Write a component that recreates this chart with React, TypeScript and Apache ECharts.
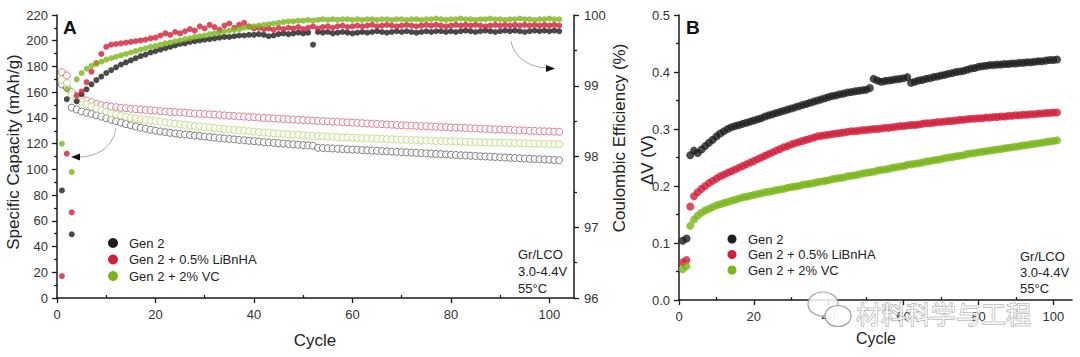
import React, { useEffect, useRef } from "react";
import * as echarts from "echarts";

// ---------- Panel A: cycle numbers ----------
const cyclesA: number[] = Array.from({ length: 102 }, (_, i) => i + 1);
const cyclesB: number[] = Array.from({ length: 101 }, (_, i) => i + 1);

const seriesNames = ["Gen 2", "Gen 2 + 0.5% LiBnHA", "Gen 2 + 2% VC"];

// Specific capacity (mAh/g), open circles
const capGen2: number[] = [
  166.0, 163.5, 148.0, 146.5, 145.0, 144.0, 143.0, 142.0, 141.0, 139.8,
  138.6, 137.5, 136.3, 135.2, 134.2, 133.3, 132.4, 131.6, 130.8, 130.1,
  129.5, 128.9, 128.4, 127.9, 127.5, 127.1, 126.7, 126.3, 125.9, 125.5,
  125.1, 124.7, 124.3, 124.0, 123.6, 123.3, 122.9, 122.6, 122.2, 121.9,
  121.6, 121.2, 120.9, 120.6, 120.3, 120.0, 119.7, 119.4, 119.1, 118.8,
  118.6, 118.4, 116.8, 116.6, 116.4, 116.2, 116.0, 115.8, 115.6, 115.4,
  115.2, 115.0, 114.8, 114.6, 114.4, 114.2, 114.0, 113.8, 113.6, 113.4,
  113.2, 113.0, 112.8, 112.6, 112.4, 112.2, 112.0, 111.8, 111.6, 111.4,
  111.2, 111.0, 110.8, 110.6, 110.4, 110.2, 110.0, 109.8, 109.6, 109.4,
  109.2, 109.0, 108.8, 108.6, 108.4, 108.2, 108.0, 107.9, 107.7, 107.5,
  107.3, 107.1,
];
const capLiBnHA: number[] = [
  175.5, 173.0, 160.0, 157.0, 155.0, 153.5, 152.2, 151.0, 150.0, 149.3,
  148.8, 148.3, 147.9, 147.5, 147.1, 146.8, 146.5, 146.2, 145.9, 145.6,
  145.3, 145.0, 144.7, 144.5, 144.2, 144.0, 143.7, 143.5, 143.2, 143.0,
  142.7, 142.5, 142.2, 142.0, 141.7, 141.5, 141.2, 141.0, 140.7, 140.5,
  140.3, 140.0, 139.8, 139.6, 139.4, 139.1, 138.9, 138.7, 138.5, 138.3,
  138.1, 137.9, 137.7, 137.5, 137.3, 137.1, 136.9, 136.7, 136.5, 136.3,
  136.1, 135.9, 135.7, 135.5, 135.3, 135.1, 134.9, 134.7, 134.5, 134.3,
  134.1, 134.0, 133.8, 133.6, 133.5, 133.3, 133.1, 132.9, 132.8, 132.6,
  132.4, 132.3, 132.1, 131.9, 131.8, 131.6, 131.5, 131.3, 131.1, 131.0,
  130.8, 130.7, 130.5, 130.3, 130.2, 130.0, 129.9, 129.7, 129.6, 129.5,
  129.3, 129.2,
];
const capVC: number[] = [
  169.5, 167.0, 158.0, 155.0, 152.5, 150.5, 148.8, 147.3, 146.0, 144.8,
  143.7, 142.7, 141.8, 141.0, 140.2, 139.5, 138.9, 138.4, 137.9, 137.5,
  137.0, 136.5, 136.0, 135.5, 135.0, 134.6, 134.2, 133.8, 133.4, 133.0,
  132.6, 132.2, 131.8, 131.4, 131.0, 130.7, 130.3, 130.0, 129.6, 129.3,
  129.0, 128.7, 128.4, 128.1, 127.8, 127.5, 127.3, 127.0, 126.8, 126.5,
  126.3, 126.1, 125.9, 125.7, 125.5, 125.3, 125.1, 124.9, 124.8, 124.6,
  124.4, 124.3, 124.1, 124.0, 123.8, 123.7, 123.5, 123.4, 123.2, 123.1,
  122.9, 122.8, 122.7, 122.5, 122.4, 122.3, 122.1, 122.0, 121.9, 121.8,
  121.7, 121.5, 121.4, 121.3, 121.2, 121.1, 121.0, 120.9, 120.8, 120.7,
  120.6, 120.5, 120.4, 120.3, 120.2, 120.1, 120.0, 119.9, 119.8, 119.7,
  119.6, 119.5,
];

// Coulombic efficiency (%), filled dots
const ceGen2: number[] = [
  97.52, 98.81, 96.9, 98.78, 98.88, 98.95, 99.02, 99.08, 99.13, 99.18,
  99.22, 99.26, 99.3, 99.33, 99.36, 99.39, 99.42, 99.44, 99.47, 99.49,
  99.51, 99.53, 99.55, 99.57, 99.59, 99.6, 99.62, 99.63, 99.64, 99.65,
  99.66, 99.67, 99.68, 99.69, 99.69, 99.7, 99.71, 99.71, 99.72, 99.72,
  99.73, 99.72, 99.7, 99.71, 99.73, 99.74, 99.73, 99.74, 99.75, 99.74,
  99.75, 99.58, 99.76, 99.75, 99.76, 99.74, 99.75, 99.76, 99.75, 99.74,
  99.75, 99.76, 99.75, 99.76, 99.77, 99.76, 99.75, 99.76, 99.77, 99.76,
  99.77, 99.76, 99.75, 99.76, 99.77, 99.76, 99.77, 99.77, 99.76, 99.77,
  99.76, 99.77, 99.78, 99.77, 99.76, 99.77, 99.78, 99.77, 99.76, 99.77,
  99.78, 99.77, 99.78, 99.77, 99.76, 99.77, 99.78, 99.77, 99.78, 99.77,
  99.78, 99.77,
];
const ceLiBnHA: number[] = [
  96.31, 98.04, 97.21, 98.86, 98.92, 99.05, 99.2, 99.32, 99.45, 99.55,
  99.58, 99.59, 99.6, 99.61, 99.62, 99.63, 99.64, 99.65, 99.67, 99.68,
  99.71, 99.74, 99.72, 99.76, 99.74, 99.77, 99.8, 99.78, 99.84, 99.81,
  99.86, 99.83, 99.79, 99.85, 99.88, 99.82, 99.86, 99.89, 99.84, 99.81,
  99.82, 99.8, 99.81, 99.79, 99.82, 99.8, 99.82, 99.81, 99.83, 99.8,
  99.82, 99.84, 99.81, 99.83, 99.84, 99.82, 99.84, 99.85, 99.83, 99.84,
  99.85, 99.84, 99.85, 99.86, 99.84, 99.85, 99.86, 99.85, 99.84, 99.85,
  99.86, 99.85, 99.84, 99.85, 99.86, 99.85, 99.86, 99.85, 99.84, 99.85,
  99.86, 99.85, 99.86, 99.85, 99.86, 99.85, 99.84, 99.85, 99.86, 99.85,
  99.86, 99.85, 99.86, 99.85, 99.86, 99.85, 99.86, 99.85, 99.86, 99.85,
  99.86, 99.85,
];
const ceVC: number[] = [
  98.18, 98.95, 97.78, 99.09, 99.18, 99.24, 99.28, 99.31, 99.34, 99.37,
  99.39, 99.41, 99.43, 99.45, 99.47, 99.49, 99.51, 99.53, 99.55, 99.56,
  99.58, 99.6, 99.61, 99.63, 99.64, 99.66, 99.67, 99.69, 99.7, 99.71,
  99.73, 99.74, 99.75, 99.77, 99.78, 99.79, 99.8, 99.82, 99.83, 99.84,
  99.85, 99.86, 99.87, 99.88, 99.89, 99.9, 99.91, 99.91, 99.92, 99.92,
  99.93, 99.92, 99.93, 99.94, 99.93, 99.94, 99.93, 99.94, 99.94, 99.93,
  99.94, 99.93, 99.94, 99.94, 99.93, 99.94, 99.94, 99.93, 99.94, 99.94,
  99.93, 99.94, 99.94, 99.93, 99.94, 99.94, 99.95, 99.94, 99.93, 99.94,
  99.94, 99.95, 99.94, 99.94, 99.93, 99.94, 99.94, 99.95, 99.94, 99.94,
  99.93, 99.94, 99.94, 99.95, 99.94, 99.94, 99.93, 99.94, 99.94, 99.95,
  99.94, 99.94,
];

// ---------- Panel B: ΔV (V) ----------
const dvGen2: number[] = [
  0.104, 0.108, 0.254, 0.262, 0.258, 0.264, 0.27, 0.276, 0.281, 0.287,
  0.292, 0.296, 0.3, 0.303, 0.305, 0.307, 0.309, 0.311, 0.313, 0.315,
  0.317, 0.319, 0.322, 0.324, 0.326, 0.328, 0.33, 0.332, 0.334, 0.336,
  0.338, 0.34, 0.342, 0.344, 0.346, 0.348, 0.35, 0.352, 0.354, 0.356,
  0.358, 0.359, 0.361, 0.362, 0.364, 0.365, 0.366, 0.367, 0.368, 0.369,
  0.372, 0.388, 0.385, 0.383, 0.384, 0.385, 0.386, 0.387, 0.388, 0.389,
  0.391, 0.381, 0.383, 0.385, 0.386, 0.388, 0.389, 0.391, 0.392, 0.394,
  0.395, 0.397, 0.398, 0.4, 0.401, 0.402, 0.404, 0.406, 0.407, 0.409,
  0.41, 0.411, 0.412, 0.412, 0.413, 0.413, 0.414, 0.414, 0.415, 0.415,
  0.416, 0.416, 0.417, 0.417, 0.418, 0.419, 0.419, 0.42, 0.421, 0.421,
  0.422,
];
const dvLiBnHA: number[] = [
  0.066, 0.07, 0.164, 0.182, 0.189, 0.195, 0.2, 0.205, 0.209, 0.213,
  0.217, 0.22, 0.223, 0.226, 0.229, 0.232, 0.235, 0.238, 0.241, 0.244,
  0.247, 0.25, 0.253, 0.256, 0.259, 0.262, 0.265, 0.268, 0.27, 0.273,
  0.275, 0.277, 0.279, 0.281, 0.283, 0.285, 0.287, 0.288, 0.289, 0.29,
  0.291, 0.292, 0.293, 0.294, 0.295, 0.296, 0.296, 0.297, 0.298, 0.298,
  0.299, 0.3, 0.3, 0.301, 0.302, 0.302, 0.303, 0.304, 0.305, 0.305,
  0.306, 0.307, 0.307, 0.308, 0.309, 0.31, 0.31, 0.311, 0.312, 0.312,
  0.313, 0.314, 0.314, 0.315, 0.316, 0.316, 0.317, 0.318, 0.318, 0.319,
  0.319, 0.32, 0.32, 0.321, 0.321, 0.322, 0.322, 0.323, 0.323, 0.324,
  0.324, 0.325, 0.325, 0.326, 0.326, 0.327, 0.327, 0.328, 0.328, 0.329,
  0.329,
];
const dvVC: number[] = [
  0.054, 0.059, 0.13, 0.141, 0.148, 0.153, 0.157, 0.16, 0.163, 0.166,
  0.168, 0.17, 0.172, 0.174, 0.176, 0.178, 0.18, 0.181, 0.183, 0.184,
  0.186, 0.187, 0.189, 0.19, 0.191, 0.193, 0.194, 0.195, 0.197, 0.198,
  0.199, 0.2, 0.202, 0.203, 0.204, 0.205, 0.207, 0.208, 0.209, 0.21,
  0.212, 0.213, 0.214, 0.215, 0.217, 0.218, 0.219, 0.22, 0.222, 0.223,
  0.224, 0.225, 0.227, 0.228, 0.229, 0.23, 0.232, 0.233, 0.234, 0.235,
  0.237, 0.238, 0.239, 0.24, 0.241, 0.243, 0.244, 0.245, 0.246, 0.247,
  0.249, 0.25, 0.251, 0.252, 0.253, 0.254, 0.256, 0.257, 0.258, 0.259,
  0.26, 0.261, 0.262, 0.263, 0.264, 0.265, 0.266, 0.267, 0.268, 0.269,
  0.27, 0.271, 0.272, 0.273, 0.274, 0.275, 0.276, 0.277, 0.278, 0.279,
  0.28,
];

// tick values
const xMajorTicks = [0, 20, 40, 60, 80, 100];
const xMinorTicks = [10, 30, 50, 70, 90];
const conditions = ["Gr/LCO", "3.0-4.4V", "55°C"];

const FONT = '"Liberation Sans", Arial, sans-serif';
const solidColors = ["#1e1e1e", "#cf1f3b", "#7bb51c"];
const openColors = ["#5a5a5a", "#cf5b76", "#b2d36a"];

function pairs(xs: number[], ys: number[]) {
  return ys.map((y, i) => [xs[i], y]);
}

export default function App() {
  const ref = useRef<HTMLDivElement>(null);

  useEffect(() => {
    if (!ref.current) return;
    const chart = echarts.init(ref.current, undefined, { renderer: "svg" });

    const axisLine = { show: true, onZero: false, lineStyle: { color: "#1a1a1a", width: 1.5 } };
    const tickStyle = { color: "#1a1a1a", width: 1.3 };
    const labelStyle = { color: "#333", fontSize: 13, fontFamily: FONT };

    const mkX = (grid: number) => [
      {
        type: "value",
        gridIndex: grid,
        min: 0,
        max: 105,
        interval: 20,
        axisLine,
        axisTick: { show: true, length: 5, customValues: xMajorTicks, lineStyle: tickStyle },
        axisLabel: { ...labelStyle, margin: 10, customValues: xMajorTicks },
        splitLine: { show: false },
      },
      {
        type: "value",
        gridIndex: grid,
        min: 0,
        max: 105,
        axisLine: { show: false },
        axisTick: { show: true, length: 3, customValues: xMinorTicks, lineStyle: tickStyle },
        axisLabel: { show: false },
        splitLine: { show: false },
      },
    ];

    const capData = [capGen2, capLiBnHA, capVC];
    const ceData = [ceGen2, ceLiBnHA, ceVC];
    const dvData = [dvGen2, dvLiBnHA, dvVC];

    const series: any[] = [];
    capData.forEach((d, i) =>
      series.push({
        name: seriesNames[i] + " capacity",
        type: "scatter",
        xAxisIndex: 0,
        yAxisIndex: 0,
        symbol: "circle",
        symbolSize: 7,
        silent: true,
        itemStyle: { color: "#ffffff", borderColor: openColors[i], borderWidth: 1 },
        data: pairs(cyclesA, d),
      })
    );
    ceData.forEach((d, i) =>
      series.push({
        name: seriesNames[i],
        type: "scatter",
        xAxisIndex: 0,
        yAxisIndex: 1,
        symbol: "circle",
        symbolSize: 6,
        silent: true,
        itemStyle: { color: solidColors[i] },
        data: pairs(cyclesA, d),
      })
    );
    dvData.forEach((d, i) =>
      series.push({
        name: seriesNames[i] + " ΔV",
        type: "scatter",
        xAxisIndex: 2,
        yAxisIndex: 2,
        symbol: "circle",
        symbolSize: 8,
        silent: true,
        itemStyle: { color: solidColors[i] },
        data: pairs(cyclesB, d),
      })
    );

    const txt = (text: string, x: number, y: number, opts: any = {}) => ({
      type: "text",
      x,
      y,
      rotation: opts.rotation || 0,
      z: 50,
      silent: true,
      style: {
        text,
        fill: opts.fill || "#222",
        fontSize: opts.fontSize || 13,
        fontFamily: FONT,
        fontWeight: opts.fontWeight || "normal",
        textAlign: opts.align || "left",
        textVerticalAlign: "middle",
      },
    });

    const legend = (cx: number, ys: number[], r: number) => {
      const els: any[] = [];
      ys.forEach((y, i) => {
        els.push({
          type: "circle",
          z: 50,
          silent: true,
          shape: { cx, cy: y, r },
          style: { fill: solidColors[i] },
        });
        els.push(txt(seriesNames[i], cx + 16, y, { fontSize: 13 }));
      });
      return els;
    };

    const graphics: any[] = [
      txt("A", 63, 27, { fontSize: 19, fontWeight: "bold", fill: "#111" }),
      txt("B", 686, 27, { fontSize: 19, fontWeight: "bold", fill: "#111" }),
      txt("Specific Capacity (mAh/g)", 13, 152, { fontSize: 17, align: "center", rotation: Math.PI / 2 }),
      txt("Coulombic Efficiency (%)", 619, 138, { fontSize: 17, align: "center", rotation: Math.PI / 2 }),
      txt("ΔV (V)", 647, 160, { fontSize: 17, align: "center", rotation: Math.PI / 2 }),
      txt("Cycle", 315, 340, { fontSize: 17, align: "center" }),
      txt("Cycle", 876, 338, { fontSize: 16, align: "center" }),
      ...legend(113, [243, 259.5, 276], 5),
      ...legend(732, [239, 254.5, 270], 4.5),
      ...conditions.map((t, i) => txt(t, 518, 254 + i * 17, { fontSize: 13 })),
      ...conditions.map((t, i) => txt(t, 1020, 256 + i * 16, { fontSize: 13 })),
      // arrow pointing to capacity axis
      {
        type: "bezierCurve",
        z: 40,
        silent: true,
        shape: { x1: 116, y1: 128, cpx1: 113, cpy1: 148, cpx2: 96, cpy2: 157, x2: 79, y2: 157 },
        style: { stroke: "#a8a8a8", lineWidth: 1, fill: "none" },
      },
      {
        type: "polygon",
        z: 40,
        silent: true,
        shape: { points: [[71, 157], [80, 153.5], [80, 160.5]] },
        style: { fill: "#111" },
      },
      // arrow pointing to CE axis
      {
        type: "bezierCurve",
        z: 40,
        silent: true,
        shape: { x1: 511, y1: 41, cpx1: 514, cpy1: 58, cpx2: 530, cpy2: 67, x2: 546, y2: 68 },
        style: { stroke: "#a8a8a8", lineWidth: 1, fill: "none" },
      },
      {
        type: "polygon",
        z: 40,
        silent: true,
        shape: { points: [[555, 68.5], [546, 65], [546, 72]] },
        style: { fill: "#111" },
      },
      // watermark
      {
        type: "ellipse",
        z: 100,
        silent: true,
        shape: { cx: 823, cy: 304, rx: 15, ry: 12 },
        style: { fill: "rgba(255,255,255,0.85)", stroke: "#a0a0a0", lineWidth: 1.2 },
      },
      {
        type: "ellipse",
        z: 101,
        silent: true,
        shape: { cx: 838, cy: 316, rx: 13, ry: 10.5 },
        style: { fill: "rgba(255,255,255,0.9)", stroke: "#a0a0a0", lineWidth: 1.2 },
      },
      {
        type: "text",
        x: 856,
        y: 313,
        z: 100,
        silent: true,
        style: {
          text: "材料科学与工程",
          fontSize: 25,
          fontFamily: '"Noto Sans CJK SC", sans-serif',
          fill: "rgba(255,255,255,0.85)",
          stroke: "#9c9c9c",
          lineWidth: 1,
          textAlign: "left",
          textVerticalAlign: "middle",
        },
      },
    ];

    const option: any = {
      animation: false,
      backgroundColor: "#ffffff",
      grid: [
        { left: 57, top: 15, width: 517, height: 283, containLabel: false },
        { left: 679, top: 15, width: 393, height: 285, containLabel: false },
      ],
      xAxis: [...mkX(0), ...mkX(1)],
      yAxis: [
        {
          type: "value",
          gridIndex: 0,
          position: "left",
          min: 0,
          max: 220,
          interval: 20,
          axisLine,
          axisTick: { show: true, length: 5, lineStyle: tickStyle },
          minorTick: { show: true, splitNumber: 2, length: 3, lineStyle: tickStyle },
          axisLabel: { ...labelStyle, margin: 9 },
          splitLine: { show: false },
        },
        {
          type: "value",
          gridIndex: 0,
          position: "right",
          min: 96,
          max: 100,
          interval: 1,
          axisLine,
          axisTick: { show: true, length: 5, lineStyle: tickStyle },
          minorTick: { show: true, splitNumber: 2, length: 3, lineStyle: tickStyle },
          axisLabel: { ...labelStyle, margin: 10 },
          splitLine: { show: false },
        },
        {
          type: "value",
          gridIndex: 1,
          position: "left",
          min: 0,
          max: 0.5,
          interval: 0.1,
          axisLine,
          axisTick: { show: true, length: 5, lineStyle: tickStyle },
          minorTick: { show: true, splitNumber: 2, length: 3, lineStyle: tickStyle },
          axisLabel: { ...labelStyle, margin: 9, formatter: (v: number) => v.toFixed(1) },
          splitLine: { show: false },
        },
      ],
      series,
      graphic: { elements: graphics },
    };

    chart.setOption(option);
    return () => chart.dispose();
  }, []);

  return (
    <div
      ref={ref}
      style={{ position: "fixed", left: 0, top: 0, width: 1080, height: 357, background: "#fff" }}
    />
  );
}
